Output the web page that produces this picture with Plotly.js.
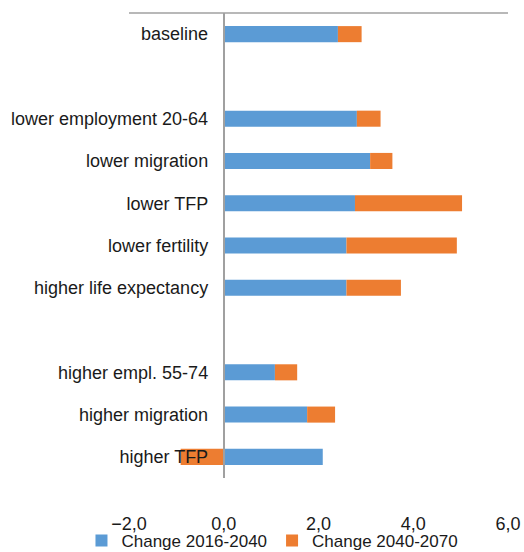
<!DOCTYPE html>
<html>
<head>
<meta charset="utf-8">
<script src="https://cdn.plot.ly/plotly-3.0.1.min.js"></script>
<style>html,body{margin:0;padding:0;background:#fff;}#chart{width:524px;height:552px;}</style>
</head>
<body>
<div id="chart"></div>
<script>
const categories = ['baseline', ' ', 'lower employment 20-64', 'lower migration', 'lower TFP', 'lower fertility', 'higher life expectancy', '  ', 'higher empl. 55-74', 'higher migration', 'higher TFP'];
const change2016_2040 = [2.41, null, 2.81, 3.09, 2.77, 2.59, 2.59, null, 1.08, 1.76, 2.09];
const change2040_2070 = [0.50, null, 0.50, 0.47, 2.26, 2.33, 1.15, null, 0.47, 0.59, -0.91];
const seriesNames = ['Change 2016-2040', 'Change 2040-2070'];
const xTicks = [-2, 0, 2, 4, 6];

const traces = [
  {type: 'bar', orientation: 'h', name: seriesNames[0], y: categories, x: change2016_2040,
   marker: {color: '#5B9BD5', line: {width: 0}}, width: 0.38},
  {type: 'bar', orientation: 'h', name: seriesNames[1], y: categories, x: change2040_2070,
   marker: {color: '#ED7D31', line: {width: 0}}, width: 0.38}
];

const layout = {
  width: 524, height: 552,
  margin: {l: 129, r: 16, t: 13, b: 74},
  barmode: 'relative',
  separators: ',.',
  paper_bgcolor: '#fff', plot_bgcolor: '#fff',
  font: {family: 'Liberation Sans, Arial, sans-serif', size: 18, color: '#1a1a1a'},
  hovermode: false,
  xaxis: {
    range: [-2, 6], tickvals: xTicks, tickformat: '.1f',
    showgrid: false, zeroline: false, showline: false,
    ticks: '', ticklabelstandoff: 33,
    tickfont: {size: 18, color: '#1a1a1a'}
  },
  yaxis: {
    type: 'category', categoryorder: 'array', categoryarray: categories,
    range: [10.5, -0.5], anchor: 'free', position: 0.25,
    showgrid: false, zeroline: false, showline: true, linecolor: '#a0a0a0', linewidth: 2,
    ticks: '', ticklabelstandoff: 11,
    tickfont: {size: 18, color: '#1a1a1a'}
  },
  shapes: [
    {type: 'line', xref: 'paper', yref: 'paper', x0: 0, x1: 1, y0: 1, y1: 1,
     line: {color: '#a0a0a0', width: 1.5}}
  ],
  legend: {
    orientation: 'h', xref: 'container', yref: 'container', x: 0.52, y: 0.02,
    xanchor: 'center', yanchor: 'middle', font: {size: 17, color: '#1a1a1a'},
    bgcolor: 'rgba(0,0,0,0)', itemwidth: 30, tracegroupgap: 0
  },
  showlegend: true
};

Plotly.newPlot('chart', traces, layout, {displayModeBar: false, staticPlot: true});
</script>
</body>
</html>
